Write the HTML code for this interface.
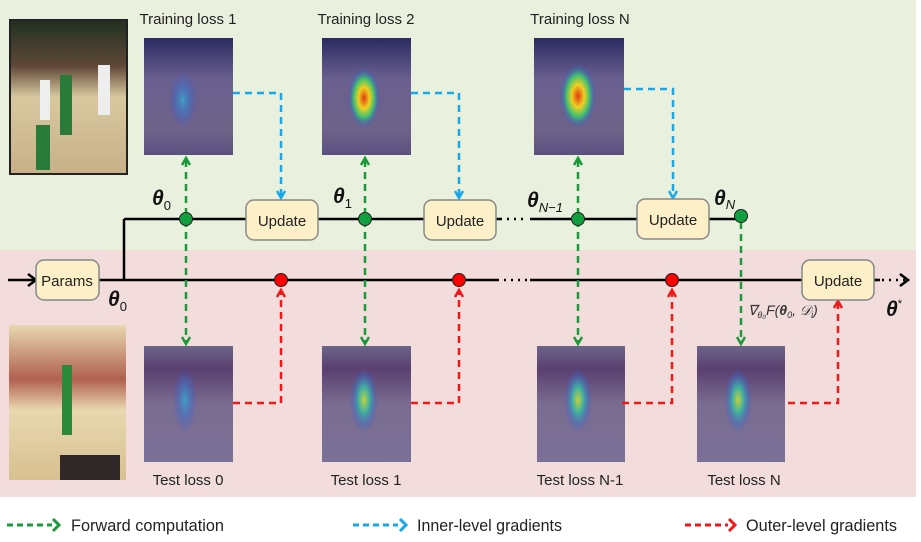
<!DOCTYPE html>
<html><head><meta charset="utf-8"><style>
html,body{margin:0;padding:0;background:#fff;width:921px;height:542px;overflow:hidden}
text{font-family:"Liberation Sans",sans-serif}
</style></head><body>
<svg width="921" height="542" viewBox="0 0 921 542" xmlns="http://www.w3.org/2000/svg">
<defs>
<radialGradient id="hot" cx="0.5" cy="0.5" r="0.5">
<stop offset="0" stop-color="#e03a10"/><stop offset="0.35" stop-color="#f0d020"/><stop offset="0.65" stop-color="#40c070"/><stop offset="1" stop-color="#3050e0" stop-opacity="0"/></radialGradient>
<radialGradient id="mild" cx="0.5" cy="0.5" r="0.5">
<stop offset="0" stop-color="#c0d040"/><stop offset="0.4" stop-color="#40b0a0"/><stop offset="1" stop-color="#3050e0" stop-opacity="0"/></radialGradient>
<radialGradient id="cool" cx="0.5" cy="0.5" r="0.5">
<stop offset="0" stop-color="#40a0c0"/><stop offset="1" stop-color="#3050e0" stop-opacity="0"/></radialGradient>
<linearGradient id="tr" x1="0" y1="0" x2="0" y2="1"><stop offset="0" stop-color="#2a2a60"/><stop offset="0.35" stop-color="#6a6090"/><stop offset="0.8" stop-color="#6e6288"/><stop offset="1" stop-color="#5a5080"/></linearGradient>
<linearGradient id="te" x1="0" y1="0" x2="0" y2="1"><stop offset="0" stop-color="#6c6488"/><stop offset="0.2" stop-color="#5a4070"/><stop offset="0.5" stop-color="#7a6c90"/><stop offset="1" stop-color="#7a7098"/></linearGradient>
<linearGradient id="ph" x1="0" y1="0" x2="0" y2="1"><stop offset="0" stop-color="#203020"/><stop offset="0.3" stop-color="#604838"/><stop offset="0.5" stop-color="#d8c8a0"/><stop offset="1" stop-color="#c8b088"/></linearGradient>
<linearGradient id="ph2" x1="0" y1="0" x2="0" y2="1"><stop offset="0" stop-color="#e8d8b0"/><stop offset="0.35" stop-color="#b06050"/><stop offset="0.55" stop-color="#e8d8b0"/><stop offset="1" stop-color="#d8c090"/></linearGradient>
</defs>
<rect x="0" y="0" width="916" height="250" fill="#eaf0de"/>
<rect x="0" y="250" width="916" height="247" fill="#f2dcdc"/>

<rect x="10" y="20" width="117" height="154" fill="url(#ph)" stroke="#222" stroke-width="2"/>
<rect x="40" y="80" width="10" height="40" fill="#eee"/><rect x="60" y="75" width="12" height="60" fill="#2a7a3a"/><rect x="98" y="65" width="12" height="50" fill="#eee"/><rect x="36" y="125" width="14" height="45" fill="#2a7a3a"/>
<rect x="9" y="325" width="117" height="155" fill="url(#ph2)"/>
<rect x="62" y="365" width="10" height="70" fill="#2a8a3a"/><rect x="60" y="455" width="60" height="25" fill="#302828"/>

<g>
<rect x="144" y="38" width="89" height="117" fill="url(#tr)"/><ellipse cx="183" cy="100" rx="14" ry="28" fill="url(#cool)"/>
<rect x="322" y="38" width="89" height="117" fill="url(#tr)"/><ellipse cx="364" cy="98" rx="16" ry="30" fill="url(#hot)"/>
<rect x="534" y="38" width="90" height="117" fill="url(#tr)"/><ellipse cx="578" cy="96" rx="18" ry="32" fill="url(#hot)"/>
</g>
<g>
<rect x="144" y="346" width="89" height="116" fill="url(#te)"/><ellipse cx="185" cy="400" rx="12" ry="32" fill="url(#cool)"/>
<rect x="322" y="346" width="89" height="116" fill="url(#te)"/><ellipse cx="364" cy="400" rx="14" ry="32" fill="url(#mild)"/>
<rect x="537" y="346" width="88" height="116" fill="url(#te)"/><ellipse cx="578" cy="400" rx="14" ry="32" fill="url(#mild)"/>
<rect x="697" y="346" width="88" height="116" fill="url(#te)"/><ellipse cx="738" cy="400" rx="14" ry="32" fill="url(#mild)"/>
</g>

<g font-size="15" fill="#222" text-anchor="middle">
<text x="188" y="24">Training loss 1</text>
<text x="366" y="24">Training loss 2</text>
<text x="580" y="24">Training loss N</text>
<text x="188" y="485">Test loss 0</text>
<text x="366" y="485">Test loss 1</text>
<text x="580" y="485">Test loss N-1</text>
<text x="744" y="485">Test loss N</text>
</g>

<g stroke="#000" stroke-width="2.5" fill="none">
<line x1="8" y1="280" x2="497" y2="280"/>
<line x1="530" y1="280" x2="880" y2="280"/>
<line x1="124" y1="280" x2="124" y2="219"/>
<line x1="124" y1="219" x2="500" y2="219"/>
<line x1="530" y1="219" x2="741" y2="219"/>
<path d="M28 274 L36 280 L28 286"/>
<path d="M900 274 L908 280 L900 286"/>
</g>
<g stroke="#000" stroke-width="2.5" stroke-dasharray="2 5" fill="none">
<line x1="500" y1="219" x2="528" y2="219"/>
<line x1="497" y1="280" x2="528" y2="280"/>
<line x1="875" y1="280" x2="905" y2="280"/>
</g>

<g stroke-width="2.5" fill="none" stroke-dasharray="7 5">
<path d="M233 93 H281 V196" stroke="#16a8e8"/>
<path d="M411 93 H459 V196" stroke="#16a8e8"/>
<path d="M624 89 H673 V196" stroke="#16a8e8"/>
<path d="M186 160 V342" stroke="#1a9a3a"/>
<path d="M365 160 V342" stroke="#1a9a3a"/>
<path d="M578 160 V342" stroke="#1a9a3a"/>
<path d="M741 222 V342" stroke="#1a9a3a"/>
<path d="M233 403 H281 V292" stroke="#f01818"/>
<path d="M411 403 H459 V292" stroke="#f01818"/>
<path d="M622 403 H672 V292" stroke="#f01818"/>
<path d="M788 403 H838 V303" stroke="#f01818"/>
</g>
<g stroke-width="2.5" fill="none">
<g stroke="#16a8e8"><path d="M277 191 L281 198 L285 191"/><path d="M455 191 L459 198 L463 191"/><path d="M669 191 L673 198 L677 191"/></g>
<g stroke="#1a9a3a"><path d="M182 165 L186 158 L190 165"/><path d="M361 165 L365 158 L369 165"/><path d="M574 165 L578 158 L582 165"/>
<path d="M182 337 L186 344 L190 337"/><path d="M361 337 L365 344 L369 337"/><path d="M574 337 L578 344 L582 337"/><path d="M737 337 L741 344 L745 337"/></g>
<g stroke="#f01818"><path d="M277 297 L281 290 L285 297"/><path d="M455 297 L459 290 L463 297"/><path d="M668 297 L672 290 L676 297"/><path d="M834 308 L838 301 L842 308"/></g>
</g>

<g stroke="#222" stroke-width="1">
<circle cx="186" cy="219" r="6.5" fill="#10a040"/>
<circle cx="365" cy="219" r="6.5" fill="#10a040"/>
<circle cx="578" cy="219" r="6.5" fill="#10a040"/>
<circle cx="741" cy="216" r="6.5" fill="#10a040"/>
<circle cx="281" cy="280" r="6.5" fill="#f00"/>
<circle cx="459" cy="280" r="6.5" fill="#f00"/>
<circle cx="672" cy="280" r="6.5" fill="#f00"/>
</g>

<g fill="#fdf0c8" stroke="#888" stroke-width="1.5">
<rect x="36" y="260" width="63" height="40" rx="8"/>
<rect x="246" y="200" width="72" height="40" rx="8"/>
<rect x="424" y="200" width="72" height="40" rx="8"/>
<rect x="637" y="199" width="72" height="40" rx="8"/>
<rect x="802" y="260" width="72" height="40" rx="8"/>
</g>
<g font-size="15" fill="#222" text-anchor="middle">
<text x="67" y="286">Params</text>
<text x="282" y="226">Update</text>
<text x="460" y="226">Update</text>
<text x="673" y="225">Update</text>
<text x="838" y="286">Update</text>
</g>

<g font-family="Liberation Serif,serif" font-weight="bold" font-style="italic" fill="#111">
<text x="152" y="205" font-size="21">θ<tspan font-size="13" font-weight="normal" font-style="normal" dy="5">0</tspan></text>
<text x="108" y="306" font-size="21">θ<tspan font-size="13" font-weight="normal" font-style="normal" dy="5">0</tspan></text>
<text x="333" y="203" font-size="21">θ<tspan font-size="13" font-weight="normal" font-style="normal" dy="5">1</tspan></text>
<text x="527" y="207" font-size="21">θ<tspan font-size="13" font-weight="normal" dy="5">N−1</tspan></text>
<text x="714" y="205" font-size="21">θ<tspan font-size="13" font-weight="normal" dy="4">N</tspan></text>
<text x="886" y="316" font-size="21">θ<tspan font-size="11" font-weight="normal" font-style="normal" dy="-9">*</tspan></text>
</g>
<text x="748" y="315" font-family="Liberation Serif,serif" font-style="italic" font-size="14" fill="#333">∇<tspan font-size="9" dy="3">θ₀</tspan><tspan dy="-3">F(</tspan><tspan font-weight="bold">θ</tspan><tspan font-size="9" dy="3">0</tspan><tspan dy="-3">, 𝒟</tspan><tspan font-size="9" dy="3">i</tspan><tspan dy="-3">)</tspan></text>

<g stroke-width="3" fill="none" stroke-dasharray="6 4">
<line x1="7" y1="525" x2="52" y2="525" stroke="#1a9a3a"/>
<line x1="353" y1="525" x2="398" y2="525" stroke="#16a8e8"/>
<line x1="685" y1="525" x2="728" y2="525" stroke="#f01818"/>
</g>
<g stroke-width="3" fill="none">
<path d="M53 519 L59 525 L53 531" stroke="#1a9a3a"/>
<path d="M400 519 L406 525 L400 531" stroke="#16a8e8"/>
<path d="M729 519 L735 525 L729 531" stroke="#f01818"/>
</g>
<g font-size="17" fill="#222">
<text x="71" y="531" textLength="153" lengthAdjust="spacingAndGlyphs">Forward computation</text>
<text x="417" y="531" textLength="145" lengthAdjust="spacingAndGlyphs">Inner-level gradients</text>
<text x="746" y="531" textLength="151" lengthAdjust="spacingAndGlyphs">Outer-level gradients</text>
</g>
</svg>
</body></html>
